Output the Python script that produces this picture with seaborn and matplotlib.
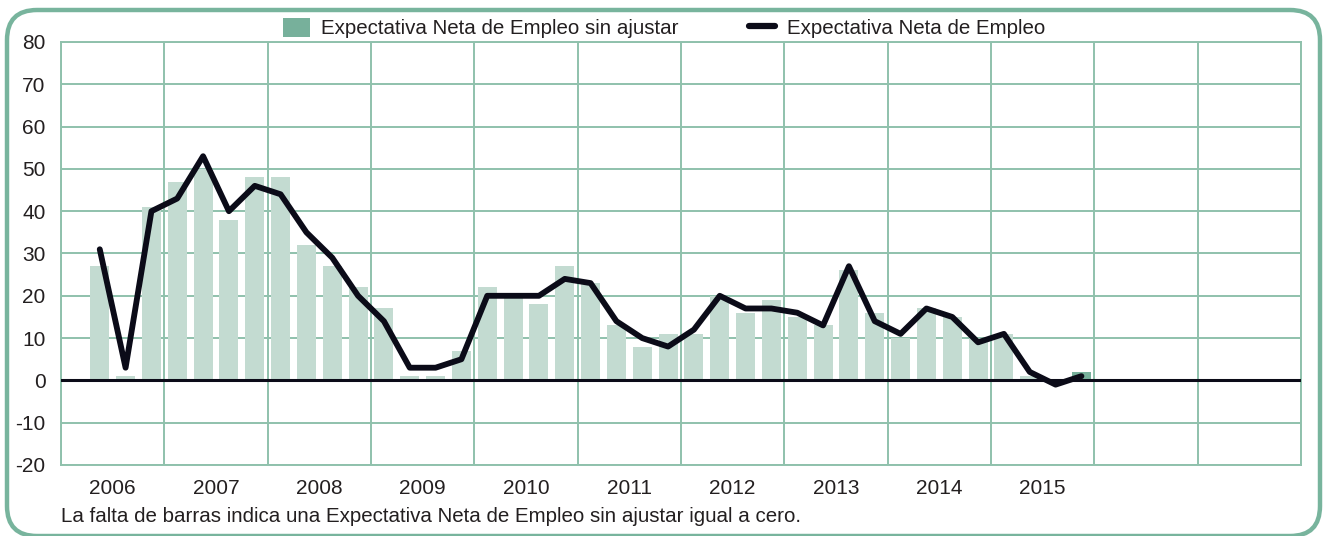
import numpy as np
import pandas as pd
import matplotlib
matplotlib.use("Agg")
import matplotlib.pyplot as plt
import seaborn as sns
from matplotlib.patches import Patch, FancyBboxPatch
from matplotlib.lines import Line2D

# Quarterly series, 2006 Q2 .. 2015 Q4
YEARS = ["2006", "2007", "2008", "2009", "2010", "2011", "2012", "2013", "2014", "2015"]
SIN_AJUSTAR = [27, 1, 41,
               47, 50, 38, 48,
               48, 32, 27, 22,
               17, 1, 1, 7,
               22, 20, 18, 27,
               23, 13, 8, 11,
               11, 20, 16, 19,
               15, 13, 26, 16,
               10, 17, 15, 10,
               11, 1, 0, 2]
AJUSTADA = [31, 3, 40,
            43, 53, 40, 46,
            44, 35, 29, 20,
            14, 3, 3, 5,
            20, 20, 20, 24,
            23, 14, 10, 8,
            12, 20, 17, 17,
            16, 13, 27, 14,
            11, 17, 15, 9,
            11, 2, -1, 1]
Y_TICKS = list(range(-20, 81, 10))
FIRST_QUARTER = 1     # series starts in Q2 of the first year
N_COLUMNS = 12        # year columns on the axis (two left empty)

LEGEND_BARS = "Expectativa Neta de Empleo sin ajustar"
LEGEND_LINE = "Expectativa Neta de Empleo"
NOTE = "La falta de barras indica una Expectativa Neta de Empleo sin ajustar igual a cero."

BAR_LIGHT = "#c3dbd1"
BAR_DARK = "#77b09b"
GRID = "#8fc1ac"
FRAME = "#78b49d"
INK = "#0b0b18"
TEXT = "#231f20"

sns.set_theme(style="white")
plt.rcParams["font.family"] = ["Liberation Sans", "DejaVu Sans"]
plt.rcParams["axes.unicode_minus"] = False

df = pd.DataFrame({"valor": SIN_AJUSTAR, "ajustada": AJUSTADA})
df["pos"] = np.arange(len(df)) + FIRST_QUARTER
df["tipo"] = "hist"
df.loc[df.index[-1], "tipo"] = "actual"

fig = plt.figure(figsize=(13.24, 5.36), dpi=100)
ax = fig.add_axes([61 / 1324, 1 - 465 / 536, (1301 - 61) / 1324, (465 - 42) / 536])

sns.barplot(data=df, x="pos", y="valor", hue="tipo", palette={"hist": BAR_LIGHT, "actual": BAR_DARK},
            native_scale=True, dodge=False, width=0.74, saturation=1, linewidth=0,
            legend=False, ax=ax, zorder=2)
ax.axhline(0, color=INK, lw=2.2, zorder=3)
sns.lineplot(data=df, x="pos", y="ajustada", color=INK, lw=4.2, ax=ax, zorder=4)

n_q = N_COLUMNS * 4
ax.set_xlim(-0.5, n_q - 0.5)
ax.set_ylim(-20, 80)
ax.set_yticks(Y_TICKS)
ax.set_xticks(np.arange(len(YEARS)) * 4 + 1.5, labels=YEARS)
ax.set_xticks(np.arange(-0.5, n_q, 4), minor=True)
ax.set_axisbelow(True)
ax.grid(True, axis="y", which="major", color=GRID, lw=1.4)
ax.grid(True, axis="x", which="minor", color=GRID, lw=1.4)
ax.tick_params(axis="both", which="both", length=0, labelsize=15, labelcolor=TEXT)
ax.tick_params(axis="y", pad=11)
ax.tick_params(axis="x", pad=10)
ax.set_xlabel("")
ax.set_ylabel("")
for s in ax.spines.values():
    s.set_color(GRID)
    s.set_linewidth(1.4)

handles = [Patch(facecolor=BAR_DARK, edgecolor="none", label=LEGEND_BARS),
           Line2D([0], [0], color=INK, lw=4.5, solid_capstyle="round", label=LEGEND_LINE)]
fig.legend(handles=handles, loc="center", bbox_to_anchor=(664 / 1324, 1 - 28 / 536), ncol=2,
           frameon=False, fontsize=14.8, handlelength=1.3, handleheight=1.1, handletextpad=0.55,
           columnspacing=3.4, labelcolor=TEXT)

fig.text(61 / 1324, 1 - 517 / 536, NOTE, fontsize=14.8, color=TEXT, ha="left", va="center")

frame = FancyBboxPatch((7, 0), 1313, 526, boxstyle="round,pad=0,rounding_size=30",
                       transform=None, facecolor="none", edgecolor=FRAME, lw=3.2)
fig.add_artist(frame)

fig.savefig("out.png", dpi=100, facecolor="white")
